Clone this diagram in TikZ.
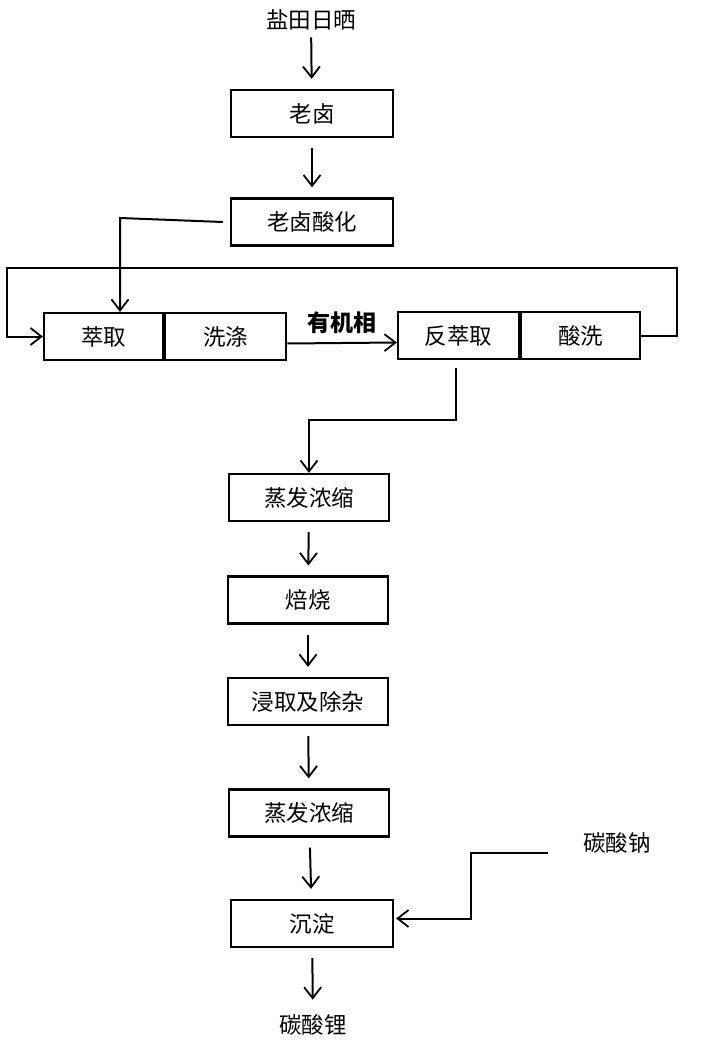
\documentclass[tikz,border=0pt]{standalone}
\usepackage{fontspec}
\setmainfont{Noto Sans CJK SC}
\usetikzlibrary{arrows.meta, positioning}

\begin{document}
\begin{tikzpicture}[x=1pt, y=-1pt, line width=2pt,
  >={Straight Barb[length=11pt, width=17pt, line width=1.8pt]},
  box/.style={draw, line width=2.2pt, minimum width=162pt, minimum height=47pt,
              inner sep=0pt, font=\fontsize{22.5}{26}\selectfont},
  half/.style={box, minimum width=120pt},
  txt/.style={font=\fontsize{22.5}{26}\selectfont, inner sep=0pt},
  flow/.style={->, shorten <=10pt, shorten >=10pt},
  lbl/.style={font=\fontsize{23}{26}\selectfont\bfseries, inner sep=0pt}
]
  \useasboundingbox (0,0) rectangle (722,1048);

  %% main column
  \node[txt] (sun)    at (311,20)    {盐田日晒};
  \node[box] (brine)  at (312,113.5) {老卤};
  \node[box] (acid)   at (312,222)   {老卤酸化};

  %% extraction row
  \node[half, minimum width=119pt] (extract) at (103.5,336.5) {萃取};
  \node[half, minimum width=121pt, right=0pt of extract] (wash) {洗涤};
  \node[half, minimum width=121pt] (strip) at (458.5,335.5) {反萃取};
  \node[half, minimum width=119pt, right=0pt of strip] (rinse) {酸洗};

  \node[box, minimum width=160pt] (evap)   at (309,497.5) {蒸发浓缩};
  \node[box, minimum width=160pt] (roast)  at (308,600)   {焙烧};
  \node[box, minimum width=160pt] (leach)  at (308,701.5) {浸取及除杂};
  \node[box, minimum width=160pt] (evapB)  at (309,813)   {蒸发浓缩};
  \node[box] (precip) at (312,923.5) {沉淀};
  \node[txt] (product) at (313,1025) {碳酸锂};
  \node[txt] (soda)    at (617,843)  {碳酸钠};

  \coordinate (feed)   at (120,218);
  \coordinate (loopR)  at (677,268);
  \coordinate (loopL)  at (7,268);
  \coordinate (sodaIn) at (548,853);

  %% straight steps
  \draw[flow, shorten <=6pt] (sun) -- (brine);
  \draw[flow] (brine) -- (acid);
  \draw[flow] (evap) -- (roast);
  \draw[flow] (roast) -- (leach);
  \draw[flow] (leach) -- (evapB);
  \draw[flow] (evapB) -- (precip);
  \draw[flow, shorten >=14pt] (precip) -- (product);

  %% acidified brine into extraction
  \draw[->] ([xshift=-7pt]acid.west) -- (feed) -- (feed |- extract.north);

  %% organic phase
  \draw[->] ([yshift=-7pt]wash.east) --
    node[lbl, above=8pt] {有机相} ([yshift=-7pt]strip.west);

  %% recycle loop
  \draw[->] (rinse.east) -| (loopR) -- (loopL) |- (extract.west);

  %% strip liquor down to evaporation
  \draw[->] ([xshift=-3pt, yshift=-8pt]strip.south) -- ++(0,52) -| (evap.north);

  %% sodium carbonate feed
  \draw[->] (sodaIn) -- ++(-77,0) |- ([yshift=5pt, xshift=2pt]precip.east);
\end{tikzpicture}
\end{document}
